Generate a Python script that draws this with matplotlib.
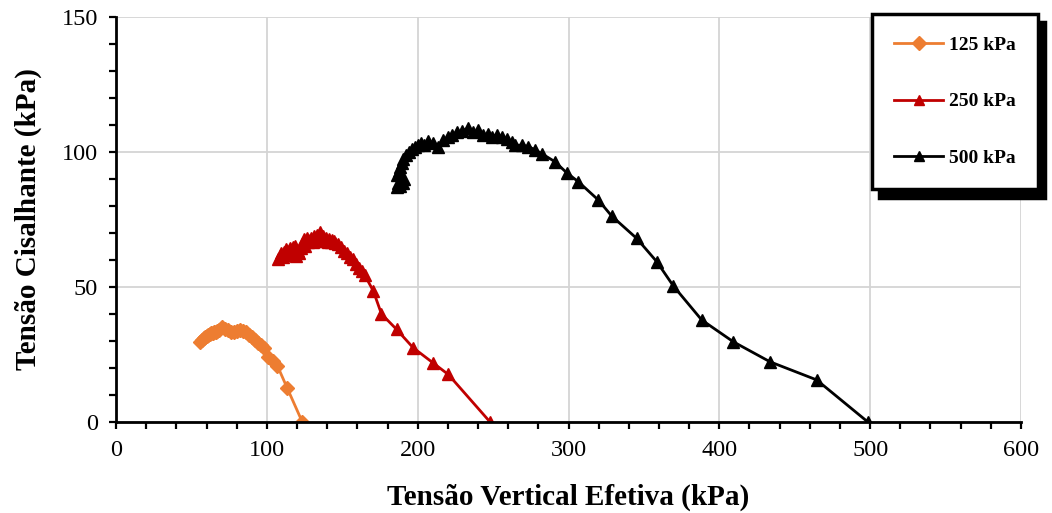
import matplotlib
matplotlib.use("Agg")
import matplotlib.pyplot as plt
from matplotlib.ticker import MultipleLocator

# Stress paths (effective vertical stress vs. shear stress), kPa
x_125 = [56, 57, 58, 59, 60, 61, 62, 63, 64, 65, 66, 67, 68, 70, 72, 74, 76,
         78, 80, 82, 84, 86, 88, 90, 92, 94, 96, 98, 101, 104, 107, 113.4, 123.5]
y_125 = [29.5, 30.5, 31, 31.5, 32, 32.3, 32.5, 32.8, 33, 33.3, 33.5, 33.8, 34,
         35, 34.5, 34, 33.5, 33.3, 33.8, 34, 33.8, 33.2, 32.3, 31.3, 30.3, 29.3,
         28.4, 27.4, 24, 22.5, 20.8, 12.7, 0]

x_250 = [107.5, 108.5, 109.5, 110.5, 111.5, 112.5, 113.5, 114.5, 115.5, 116.5,
         117.5, 118.5, 119.5, 120.5, 121.5, 122.5, 123.5, 124.5, 125.5, 126.5,
         127.5, 128.5, 129.5, 130.5, 131.5, 132.5, 133.5, 134.5, 135.5, 136.5,
         137.5, 138.5, 139.5, 140.5, 141.5, 142.5, 143.5, 144.5, 145.5, 147,
         149, 151, 153, 155, 157, 159, 161, 163, 165, 170.6, 176, 186, 197,
         210.4, 220.3, 248]
y_250 = [60.3, 61.5, 62.5, 61.2, 63, 64.2, 61.8, 63.5, 64.6, 62.5, 64.8, 65.2,
         61.5, 63.5, 62.5, 64.5, 66, 67.7, 65, 68.3, 66.5, 67.5, 68.3, 66.8,
         68.9, 67.2, 69.2, 68.5, 70.3, 67.5, 68.9, 67, 68.3, 66.8, 67.9, 66.5,
         67.3, 67, 66.2, 65.8, 64.8, 63.5, 62.5, 61.2, 60.2, 58.5, 57.2, 55.8,
         54.3, 48.5, 40, 34.3, 27.5, 21.8, 17.6, 0]

x_500 = [186, 187, 188, 189, 190, 191, 186.5, 187.5, 188.5, 189.5, 190.5, 192,
         194, 196, 198, 200, 202, 204, 207, 210, 213.7, 217, 220.3, 222.6,
         225.9, 229.2, 233.6, 236.9, 240.2, 243.5, 246.8, 249, 252.4, 255.7,
         259, 262.3, 264.5, 269, 273.4, 277.8, 282.2, 291, 298.8, 306.5, 319.8,
         328.6, 345.2, 358.5, 369.5, 388.3, 409.3, 433.6, 464.5, 498.5]
y_500 = [87, 88.5, 87.5, 89.5, 88.5, 90, 91.5, 93, 94.5, 96, 97.5, 99, 100,
         101, 102, 102.5, 103.5, 102.5, 104, 103.5, 102, 104.5, 105.6, 106.2,
         107.4, 107.7, 108.9, 107.4, 108, 106.2, 106.8, 105.6, 106.4, 105.6,
         104.9, 103.7, 102.5, 102.5, 102, 100.8, 99.4, 96.4, 92.3, 89, 82.2,
         76.3, 68, 59.4, 50.4, 37.8, 29.7, 22.3, 15.6, 0]

labels = ["125 kPa", "250 kPa", "500 kPa"]
x_ticks = [0, 100, 200, 300, 400, 500, 600]
y_ticks = [0, 50, 100, 150]

plt.rcParams["font.family"] = ["Liberation Serif", "DejaVu Serif"]

fig = plt.figure(figsize=(10.52, 5.13), dpi=100)
ax = fig.add_axes([0.1103, 0.1774, 0.8602, 0.7895])

ax.plot(x_125, y_125, color="#ED7D31", lw=2, marker="D", ms=7.5,
        label=labels[0], zorder=3)
ax.plot(x_250, y_250, color="#C00000", lw=2, marker="^", ms=9,
        label=labels[1], zorder=3)
ax.plot(x_500, y_500, color="black", lw=2, marker="^", ms=9,
        label=labels[2], zorder=3)

ax.set_xlim(0, 600)
ax.set_ylim(0, 150)
ax.set_xticks(x_ticks)
ax.set_yticks(y_ticks)
ax.xaxis.set_minor_locator(MultipleLocator(20))
ax.yaxis.set_minor_locator(MultipleLocator(10))
ax.grid(True, which="major", color="#d4d4d4", lw=1.3, zorder=0)
ax.set_axisbelow(True)

for side in ("top", "right"):
    ax.spines[side].set_visible(False)
for side in ("left", "bottom"):
    ax.spines[side].set_linewidth(2)
    ax.spines[side].set_zorder(4)

ax.tick_params(which="both", direction="out", length=5, width=1.6,
               labelsize=17.5, color="black")
ax.tick_params(axis="x", pad=8)
ax.tick_params(axis="y", pad=8)

ax.set_xlabel("Tensão Vertical Efetiva (kPa)", fontsize=21, fontweight="bold",
              labelpad=16)
ax.set_ylabel("Tensão Cisalhante (kPa)", fontsize=21, fontweight="bold",
              labelpad=14)

leg = ax.legend(loc="upper left", bbox_to_anchor=(872 / 1052, 1 - 14 / 513),
                bbox_transform=fig.transFigure, borderaxespad=0,
                frameon=True, fancybox=False, framealpha=1,
                edgecolor="black", prop={"weight": "bold", "size": 14},
                handlelength=2.5, labelspacing=2.0, borderpad=1.15,
                handletextpad=0.3,
                shadow={"ox": 5, "oy": -6, "color": "black", "alpha": 1})
leg.get_frame().set_linewidth(2.5)
for line in leg.get_lines():
    line.set_markersize(7)

fig.savefig("out.png", dpi=100)
